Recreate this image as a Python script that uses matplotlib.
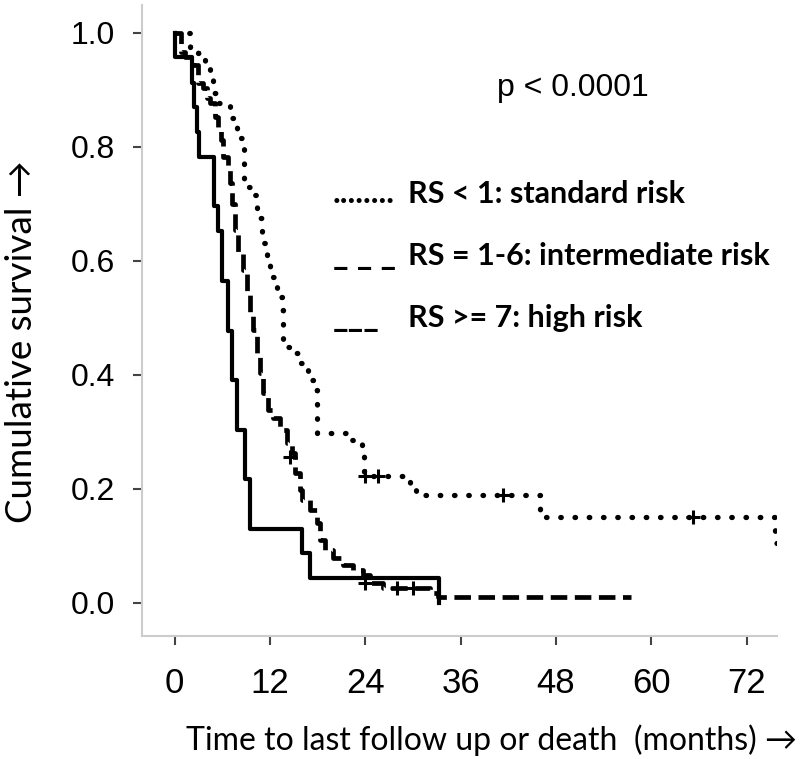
import matplotlib
matplotlib.use("Agg")
import matplotlib.pyplot as plt

# standard risk (RS < 1), dotted
std_t = [0, 1.9, 2.9, 3.8, 4.4, 4.8, 5.5, 7.0, 7.8, 8.8, 10.1, 10.4, 11.0, 11.6, 12.0,
         12.3, 12.9, 13.5, 13.6, 14.9, 15.8, 16.8, 17.4, 17.9, 21.9, 23.6, 23.9, 29.6,
         30.4, 46.0, 75.6, 80.0]
std_s = [1.0, 0.976, 0.965, 0.949, 0.93, 0.895, 0.877, 0.851, 0.816, 0.73, 0.716, 0.675,
         0.632, 0.61, 0.59, 0.572, 0.537, 0.514, 0.449, 0.439, 0.421, 0.391, 0.374, 0.298,
         0.286, 0.263, 0.223, 0.204, 0.189, 0.151, 0.105, 0.105]
std_cens_t = [24.0, 25.6, 41.4, 65.3]
std_cens_s = [0.223, 0.223, 0.189, 0.151]

# intermediate risk (RS = 1-6), dashed
int_t = [0, 0.8, 1.3, 2.3, 2.9, 3.6, 4.1, 4.5, 5.1, 5.5, 5.8, 6.1, 6.7, 7.0, 7.2, 7.6,
         8.0, 8.6, 9.1, 9.5, 9.9, 10.4, 10.8, 11.1, 11.8, 12.4, 13.3, 14.2, 14.8, 15.2,
         15.8, 16.0, 17.0, 17.9, 18.3, 18.9, 19.9, 21.2, 22.5, 23.7, 24.6, 26.2, 32.2,
         33.2, 57.5]
int_s = [1.0, 0.967, 0.958, 0.944, 0.912, 0.904, 0.886, 0.877, 0.853, 0.83, 0.812, 0.782,
         0.76, 0.737, 0.70, 0.654, 0.614, 0.584, 0.544, 0.509, 0.479, 0.432, 0.404, 0.368,
         0.339, 0.325, 0.304, 0.281, 0.263, 0.228, 0.198, 0.181, 0.163, 0.14, 0.11, 0.093,
         0.079, 0.067, 0.058, 0.049, 0.035, 0.026, 0.018, 0.01, 0.01]
int_cens_t = [14.5, 24.0, 28.0, 30.0]
int_cens_s = [0.256, 0.035, 0.026, 0.026]

# high risk (RS >= 7), solid
high_t = [0, 0.01, 2.2, 2.5, 2.8, 3.1, 4.9, 5.5, 6.0, 6.7, 7.2, 7.8, 8.9, 9.5, 16.0,
          17.0, 33.3]
high_s = [1.0, 0.957, 0.913, 0.870, 0.826, 0.783, 0.696, 0.652, 0.565, 0.478, 0.391,
          0.304, 0.217, 0.130, 0.087, 0.043, 0.0]

x_ticks = [0, 12, 24, 36, 48, 60, 72]
y_ticks = [0.0, 0.2, 0.4, 0.6, 0.8, 1.0]
legend_labels = ["RS < 1: standard risk", "RS = 1-6: intermediate risk", "RS >= 7: high risk"]
legend_marks = ["........", "_ _ _", "___"]

fig = plt.figure(figsize=(8, 7.59), dpi=100)
ax = fig.add_axes([0.1775, 0.162, 0.7935, 0.8314])

ax.plot(std_t, std_s, drawstyle="steps-post", color="black", lw=3.8,
        linestyle=(0, (0.1, 2.6)), dash_capstyle="round")
ax.plot(int_t, int_s, drawstyle="steps-post", color="black", lw=3.4,
        linestyle=(0, (3.5, 1.6)))
ax.plot(high_t, high_s, drawstyle="steps-post", color="black", lw=3.0)
ax.plot(std_cens_t, std_cens_s, "+", color="black", ms=10, mew=2.2)
ax.plot(int_cens_t, int_cens_s, "+", color="black", ms=10, mew=2.2)

ax.set_xlim(-4.1, 75.8)
ax.set_ylim(-0.058, 1.049)
ax.set_xticks(x_ticks)
ax.set_yticks(y_ticks)
ax.set_yticklabels(["%.1f" % v for v in y_ticks], fontfamily="Liberation Sans", fontsize=23)
ax.set_xticklabels([str(v) for v in x_ticks], fontfamily="Liberation Sans", fontsize=25)
ax.tick_params(axis="y", length=6.5, width=1.5, color="#444444", pad=13)
ax.tick_params(axis="x", length=6.5, width=1.5, color="#444444", pad=16)

for side in ["top", "right"]:
    ax.spines[side].set_visible(False)
for side in ["left", "bottom"]:
    ax.spines[side].set_color("#cccccc")
    ax.spines[side].set_linewidth(1.5)

fig.text(797 / 800, 1 - 740 / 759, "Time to last follow up or death  (months) \u2192",
         family=["Lato", "DejaVu Sans"], fontsize=23, ha="right", va="center")
fig.text(22 / 800, 1 - 342 / 759, "Cumulative survival \u2192", family=["Lato", "DejaVu Sans"],
         fontsize=26.5, rotation=90, ha="center", va="center")

fig.text(497 / 800, 1 - 88 / 759, "p < 0.0001", fontfamily="Liberation Sans", fontsize=23,
         va="center", ha="left")

base_y = [203, 265, 327]
for mark, lab, yb in zip(legend_marks, legend_labels, base_y):
    fig.text(333 / 800, 1 - yb / 759, mark, family="Lato", fontweight="bold", fontsize=24,
             va="baseline", ha="left")
    fig.text(408 / 800, 1 - yb / 759, lab, family="Lato", fontweight="bold", fontsize=22,
             va="baseline", ha="left")

fig.savefig("out.png", dpi=100)
